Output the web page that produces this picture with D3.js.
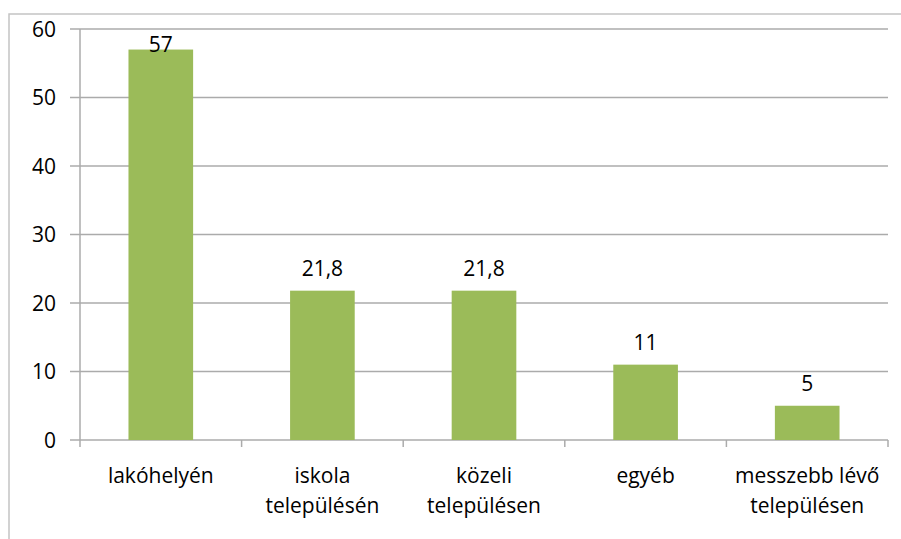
<!DOCTYPE html>
<html>
<head>
<meta charset="utf-8">
<script src="https://cdn.jsdelivr.net/npm/d3@7"></script>
<style>
  body { margin: 0; background: #fff; }
  text { font-family: "Open Sans", "Liberation Sans", sans-serif; fill: #000; }
</style>
</head>
<body>
<div id="chart-area"></div>
<script>
// data
var categories = ["lakóhelyén", "iskola településén", "közeli településen", "egyéb", "messzebb lévő településen"];
var labelLines = [["lakóhelyén"], ["iskola", "településén"], ["közeli", "településen"], ["egyéb"], ["messzebb lévő", "településen"]];
var values = [57, 21.8, 21.8, 11, 5];
var yTicks = [0, 10, 20, 30, 40, 50, 60];

var width = 901, height = 539;
var svg = d3.select("#chart-area").append("svg")
    .attr("width", width)
    .attr("height", height);

// outer chart border (left + top visible)
svg.append("rect")
    .attr("x", 9).attr("y", 14)
    .attr("width", 1000).attr("height", 1000)
    .attr("fill", "none")
    .attr("stroke", "#c4c4c4")
    .attr("stroke-width", 1.5);

var x = d3.scaleBand()
    .domain(categories)
    .range([80, 888])
    .paddingInner(0.6)
    .paddingOuter(0.3);

var y = d3.scaleLinear()
    .domain([0, 60])
    .range([440, 29]);

// gridlines
svg.append("g")
    .selectAll("line")
    .data(yTicks)
    .enter()
    .append("line")
    .attr("x1", 70).attr("x2", 888)
    .attr("y1", d => y(d)).attr("y2", d => y(d))
    .attr("stroke", "#ababab")
    .attr("stroke-width", 1.5);

// y axis line
svg.append("line")
    .attr("x1", 80).attr("x2", 80)
    .attr("y1", 29).attr("y2", 440)
    .attr("stroke", "#ababab")
    .attr("stroke-width", 1.5);

// y tick labels
svg.append("g")
    .selectAll("text")
    .data(yTicks)
    .enter()
    .append("text")
    .attr("x", 56)
    .attr("y", d => y(d))
    .attr("dy", "0.36em")
    .attr("text-anchor", "end")
    .style("font-size", "21px")
    .text(d => d);

// x category boundary ticks
var bounds = categories.map(c => x(c) - x.step() * x.paddingInner() / 2);
bounds.push(888);
bounds[0] = 80;
svg.append("g")
    .selectAll("line")
    .data(bounds)
    .enter()
    .append("line")
    .attr("x1", d => d).attr("x2", d => d)
    .attr("y1", 440).attr("y2", 447)
    .attr("stroke", "#ababab")
    .attr("stroke-width", 1.5);

// bars
svg.selectAll("rect.bar")
    .data(values)
    .enter()
    .append("rect")
    .attr("class", "bar")
    .attr("x", (d, i) => x(categories[i]))
    .attr("y", d => y(d))
    .attr("width", x.bandwidth())
    .attr("height", d => 440 - y(d))
    .attr("fill", "#9bbb59");

// value labels
svg.append("g")
    .selectAll("text")
    .data(values)
    .enter()
    .append("text")
    .attr("x", (d, i) => x(categories[i]) + x.bandwidth() / 2)
    .attr("y", d => Math.max(y(d) - 15, 52))
    .attr("text-anchor", "middle")
    .style("font-size", "21px")
    .text(d => String(d).replace(".", ","));

// category labels
var catG = svg.append("g")
    .selectAll("text")
    .data(labelLines)
    .enter()
    .append("text")
    .attr("x", (d, i) => x(categories[i]) + x.bandwidth() / 2)
    .attr("y", 483)
    .attr("text-anchor", "middle")
    .style("font-size", "21px");

catG.selectAll("tspan")
    .data(d => d)
    .enter()
    .append("tspan")
    .attr("x", function () { return d3.select(this.parentNode).attr("x"); })
    .attr("dy", (d, i) => i === 0 ? 0 : 30)
    .text(d => d);
</script>
</body>
</html>
